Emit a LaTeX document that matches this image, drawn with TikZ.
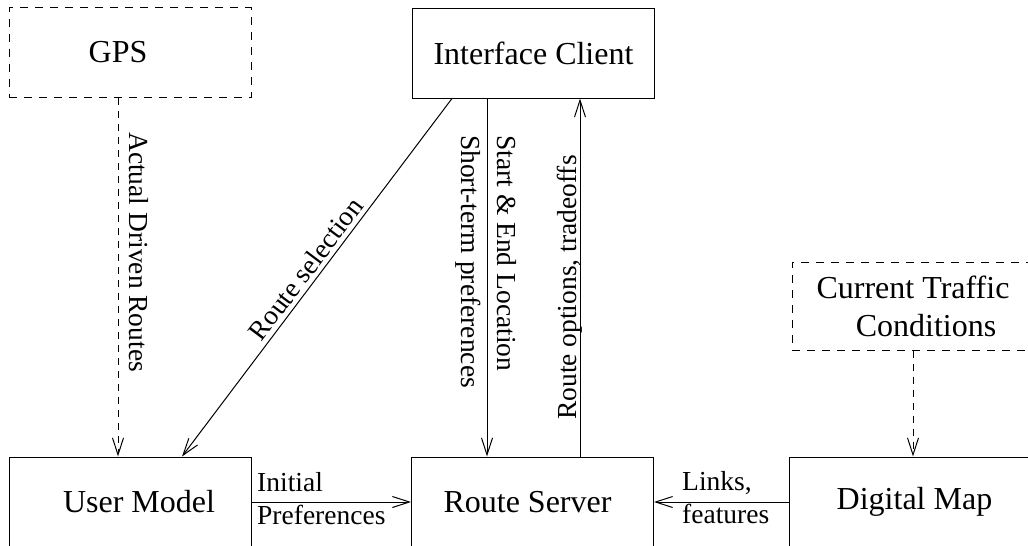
\documentclass[tikz,border=0pt]{standalone}
\usepackage{fontspec}
\setmainfont{Liberation Serif}
\usetikzlibrary{arrows.meta}
\tikzset{
  box/.style={draw, line width=1pt, minimum width=242pt, minimum height=90pt, inner sep=0pt,
    font=\fontsize{32}{38}\selectfont, align=center},
  dbox/.style={box, dash pattern=on 8pt off 7pt},
  conn/.style={line width=1pt, -{Straight Barb[length=17pt,width=11pt,line width=1pt]}},
  dconn/.style={conn, dash pattern=on 7pt off 6pt},
  lbl/.style={font=\fontsize{27.5}{33}\selectfont, inner sep=0pt}
}
\begin{document}
\begin{tikzpicture}[x=1pt,y=-1pt]
\useasboundingbox (0,0) rectangle (1028,546);
\clip (0,0) rectangle (1028,546);

\node[dbox] (gps) at (130,52.5) {GPS\hspace*{24pt}};
\node[box] (ic) at (533.5,53) {Interface Client};
\node[dbox, minimum height=88pt] (tr) at (913,306) {Current Traffic\\\hspace*{26pt}Conditions};
\node[box] (um) at (130,502) {\hspace*{18pt}User Model};
\node[box] (rs) at (532.5,502) {Route Server\hspace*{10pt}};
\node[box] (dm) at (910.5,502) {Digital Map\hspace*{-8pt}};

\draw[dconn] ([xshift=-12pt]gps.south) -- ([xshift=-12pt]gps.south |- um.north);
\draw[conn] ([xshift=-81.5pt]ic.south) -- node[lbl, midway, sloped, above=4pt] {Route selection} ([xshift=52pt]um.north);
\draw[conn] ([xshift=-46.5pt]ic.south) -- ([xshift=-45.5pt]rs.north);
\draw[conn] ([xshift=47.5pt]rs.north) -- ([xshift=46.5pt]ic.south);
\draw[dconn] (tr.south) -- (tr.south |- dm.north);
\draw[conn] (um.east) -- (rs.west);
\draw[conn] (dm.west) -- (rs.east);

\node[lbl, rotate=-90, anchor=base west] (l1) at (129,132) {Actual Driven Routes};
\node[lbl, rotate=-90, anchor=base west] (l2) at (497,135) {Start \& End Location};
\node[lbl, rotate=-90, anchor=base west] (l3) at (461,135) {Short-term preferences};
\node[lbl, rotate=90, anchor=base west] (l4) at (576,420) {Route options, tradeoffs};
\node[lbl, anchor=base west] (l5) at (257,491) {Initial};
\node[lbl, anchor=base west] (l6) at (257,524) {Preferences};
\node[lbl, anchor=base west] (l7) at (682,490) {Links,};
\node[lbl, anchor=base west] (l8) at (682,523) {features};
\end{tikzpicture}
\end{document}
